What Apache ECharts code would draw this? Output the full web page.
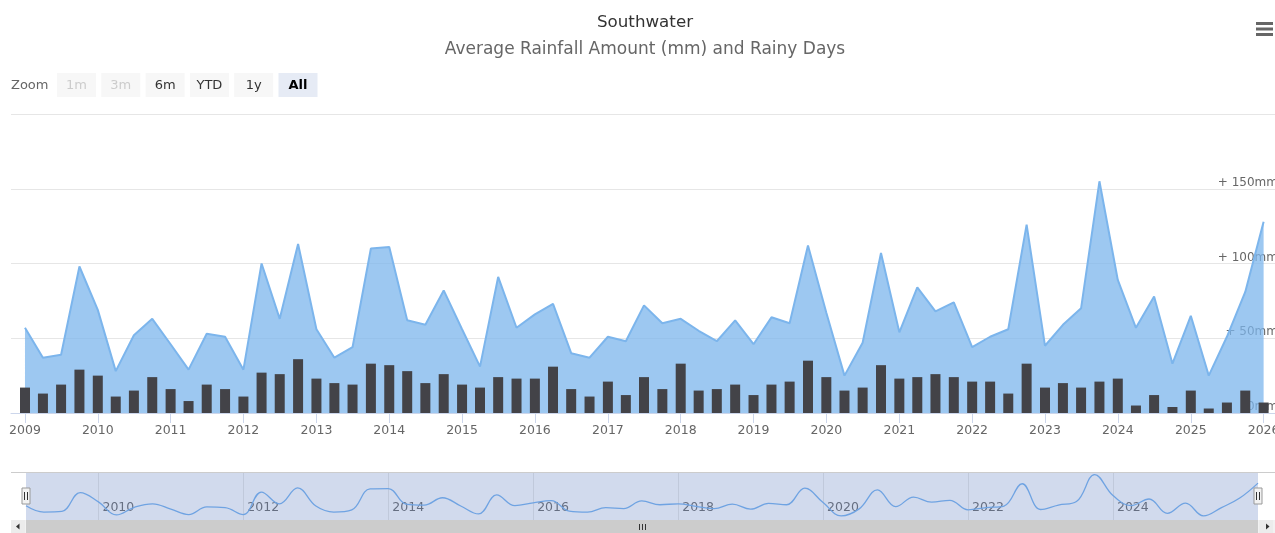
<!DOCTYPE html>
<html><head><meta charset="utf-8">
<script src="https://cdn.jsdelivr.net/npm/echarts@6/dist/echarts.min.js"></script>
<style>html,body{margin:0;padding:0;background:#fff;overflow:hidden}#c{width:1275px;height:533px}</style>
</head><body><div id="c"></div>
<script>
// ---- data (quarterly, starting Jan 2009) ----
const startYear = 2009;
const rainfall = [
  57, 37, 39, 98,
  69, 28, 52, 63,
  46, 29, 53, 51,
  29, 100, 63, 113,
  56, 37, 44, 110,
  111, 62, 59, 82,
  56, 31, 91, 57,
  66, 73, 40, 37,
  51, 48, 72, 60,
  63, 55, 48, 62,
  46, 64, 60, 112,
  67, 25, 47, 107,
  54, 84, 68, 74,
  44, 51, 56, 126,
  45, 59, 70, 155,
  89, 57, 78, 33,
  65, 25, 51, 81,
  128
];
const rainyDays = [
  17, 13, 19, 29,
  25, 11, 15, 24,
  16, 8, 19, 16,
  11, 27, 26, 36,
  23, 20, 19, 33,
  32, 28, 20, 26,
  19, 17, 24, 23,
  23, 31, 16, 11,
  21, 12, 24, 16,
  33, 15, 16, 19,
  12, 19, 21, 35,
  24, 15, 17, 32,
  23, 24, 26, 24,
  21, 21, 13, 33,
  17, 20, 17, 21,
  23, 5, 12, 4,
  15, 3, 7, 15,
  7
];
const yTicks = [0, 50, 100, 150, 200];
const navigatorYears = [2010, 2012, 2014, 2016, 2018, 2020, 2022, 2024];
const rangeButtons = ['1m', '3m', '6m', 'YTD', '1y', 'All'];
const disabledButtons = ['1m', '3m'];
const selectedButton = 'All';
const titleText = 'Southwater';
const subtitleText = 'Average Rainfall Amount (mm) and Rainy Days';

// ---- derived ----
const dates = rainfall.map((_, i) => +new Date(startYear + Math.floor(i / 4), (i % 4) * 3, 1));
const areaData = dates.map((d, i) => [d, rainfall[i]]);
const barData = dates.map((d, i) => [d, rainyDays[i]]);
const YEAR = 365 * 864e5;
const FONT = '"DejaVu Sans", Verdana, sans-serif';

const graphics = [];
graphics.push({type: 'text', x: 11, y: 86, style: {text: 'Zoom', fill: '#666', font: '13px ' + FONT, verticalAlign: 'middle'}});
rangeButtons.forEach((b, i) => {
  const x = 57 + i * 44.3;
  const dis = disabledButtons.includes(b), sel = b === selectedButton;
  graphics.push({type: 'rect', shape: {x: x, y: 73, width: 39, height: 24}, style: {fill: sel ? '#e6ebf5' : '#f7f7f7'}});
  graphics.push({type: 'text', x: x + 19.5, y: 85.5, style: {text: b, fill: dis ? '#cccccc' : (sel ? '#000' : '#333'), font: (sel ? 'bold ' : '') + '13px ' + FONT, align: 'center', verticalAlign: 'middle'}});
});
// context menu icon
[23.5, 29, 34.5].forEach(y => graphics.push({type: 'rect', shape: {x: 1256, y: y - 1.5, width: 17, height: 3}, style: {fill: '#666'}}));
// navigator outline
graphics.push({type: 'line', shape: {x1: 11, y1: 472.5, x2: 1275, y2: 472.5}, style: {stroke: '#cccccc', lineWidth: 1}, z: 10});
// scrollbar
graphics.push({type: 'rect', shape: {x: 11, y: 520, width: 1264, height: 13}, style: {fill: '#f2f2f2'}});
graphics.push({type: 'rect', shape: {x: 26, y: 520, width: 1232, height: 13}, style: {fill: '#cccccc'}});
graphics.push({type: 'rect', shape: {x: 11, y: 520, width: 14, height: 13}, style: {fill: '#ececec'}});
graphics.push({type: 'rect', shape: {x: 1259, y: 520, width: 14, height: 13}, style: {fill: '#ececec'}});
graphics.push({type: 'polygon', shape: {points: [[16, 526.5], [19.5, 523.5], [19.5, 529.5]]}, style: {fill: '#333'}});
graphics.push({type: 'polygon', shape: {points: [[1269.5, 526.5], [1266, 523.5], [1266, 529.5]]}, style: {fill: '#333'}});
[-3, 0, 3].forEach(dx => graphics.push({type: 'line', shape: {x1: 642.5 + dx, y1: 524, x2: 642.5 + dx, y2: 530}, style: {stroke: '#333', lineWidth: 1}}));
// navigator handles
[26, 1258].forEach(cx => {
  graphics.push({type: 'rect', shape: {x: cx - 4, y: 488, width: 8, height: 16}, style: {fill: '#f2f2f2', stroke: '#999', lineWidth: 1}, z: 20});
  [-1.5, 1.5].forEach(dx => graphics.push({type: 'line', shape: {x1: cx + dx, y1: 492, x2: cx + dx, y2: 500}, style: {stroke: '#333', lineWidth: 1}, z: 21}));
});

const chart = echarts.init(document.getElementById('c'), null, {renderer: 'canvas'});
chart.setOption({
  animation: false,
  backgroundColor: '#fff',
  title: [
    {text: titleText, left: 640, top: 9, textAlign: 'center', textStyle: {fontFamily: FONT, fontSize: 16.7, fontWeight: 'normal', color: '#333'}},
    {text: subtitleText, left: 640, top: 36, textAlign: 'center', textStyle: {fontFamily: FONT, fontSize: 17, fontWeight: 'normal', color: '#666'}}
  ],
  grid: [
    {left: 11, right: 0, top: 114, height: 299, outerBoundsMode: 'none', containLabel: false},
    {left: 26, right: 17, top: 472, height: 48, outerBoundsMode: 'none', containLabel: false}
  ],
  xAxis: [
    {
      type: 'time', gridIndex: 0,
      min: +new Date(2008, 10, 17), max: +new Date(2026, 1, 2),
      minInterval: YEAR, maxInterval: YEAR + 864e5,
      axisLine: {lineStyle: {color: '#ccd6eb'}},
      axisTick: {length: 10, lineStyle: {color: '#ccd6eb'}},
      splitLine: {show: false},
      axisLabel: {
        formatter: v => String(new Date(v).getFullYear()),
        showMinLabel: false, showMaxLabel: false,
        color: '#666', fontSize: 12.5, fontFamily: FONT, margin: 11
      }
    },
    {
      type: 'time', gridIndex: 1,
      min: dates[0], max: dates[dates.length - 1],
      minInterval: YEAR, maxInterval: YEAR + 864e5,
      axisLine: {show: false}, axisTick: {show: false}, splitLine: {show: false},
      axisLabel: {
        inside: true, align: 'left', margin: 6,
        formatter: v => { const y = new Date(v).getFullYear(); return navigatorYears.includes(y) ? String(y) : ''; },
        showMinLabel: false, showMaxLabel: false,
        color: '#666', fontSize: 12.5, fontFamily: FONT, padding: [0, 0, 0, 4]
      }
    }
  ],
  yAxis: [
    {
      type: 'value', gridIndex: 0, position: 'right', min: yTicks[0], max: yTicks[yTicks.length - 1], interval: yTicks[1] - yTicks[0],
      axisLine: {show: false}, axisTick: {show: false},
      splitLine: {lineStyle: {color: '#e6e6e6'}},
      axisLabel: {
        inside: true, margin: -3, verticalAlign: 'bottom', showMaxLabel: false,
        formatter: v => (v > 0 ? '+ ' : '') + v + 'mm',
        color: '#666', fontSize: 12, fontFamily: FONT
      }
    },
    {type: 'value', gridIndex: 0, min: yTicks[0], max: yTicks[yTicks.length - 1], show: false},
    {type: 'value', gridIndex: 1, min: 12, max: 163, show: false}
  ],
  graphic: graphics,
  series: [
    {
      name: 'Rainfall (mm)', type: 'line', xAxisIndex: 0, yAxisIndex: 0,
      data: areaData, showSymbol: false, z: 2,
      lineStyle: {color: '#7cb5ec', width: 2},
      areaStyle: {color: '#7cb5ec', opacity: 0.75}
    },
    {
      name: 'Rainy days', type: 'bar', xAxisIndex: 0, yAxisIndex: 1,
      data: barData, barWidth: 10, z: 3,
      itemStyle: {color: '#434348'}
    },
    {
      name: 'Navigator', type: 'line', xAxisIndex: 1, yAxisIndex: 2,
      data: areaData, showSymbol: false, smooth: 0.4, z: 5,
      lineStyle: {color: '#6fa3e2', width: 1.3},
      markArea: {silent: true, itemStyle: {color: 'rgba(102,133,194,0.3)'}, data: [[{xAxis: dates[0]}, {xAxis: dates[dates.length - 1]}]]},
      markLine: {silent: true, symbol: 'none', label: {show: false}, lineStyle: {color: '#c0c9db', type: 'solid', width: 1},
        data: navigatorYears.map(y => ({xAxis: +new Date(y, 0, 1)}))}
    }
  ]
});
</script>
</body></html>
